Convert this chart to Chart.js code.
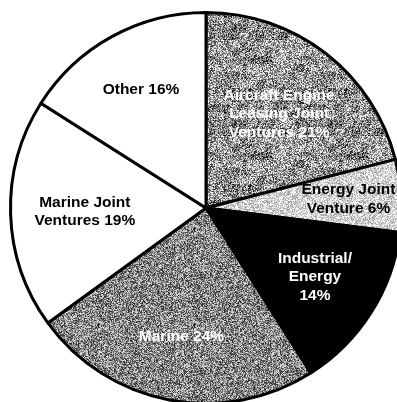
<!DOCTYPE html>
<html>
<head>
<meta charset="utf-8">
<script src="https://cdn.jsdelivr.net/npm/chart.js@4.4.1/dist/chart.umd.min.js"></script>
<style>
  html, body { margin: 0; padding: 0; background: #fff; overflow: hidden; }
  #wrap { position: absolute; left: 0; top: 0; width: 412px; height: 416px; }
</style>
</head>
<body>
<div id="wrap"><canvas id="myChart" width="412" height="416"></canvas></div>
<script>
var categories = [
  "Aircraft Engine Leasing Joint Ventures",
  "Energy Joint Venture",
  "Industrial/Energy",
  "Marine",
  "Marine Joint Ventures",
  "Other"
];
var shares = [21, 6, 14, 24, 19, 16];

// wrapped text for each slice, {p} becomes the percentage
var labelLines = [
  ["Aircraft Engine", "Leasing Joint", "Ventures {p}"],
  ["Energy Joint", "Venture {p}"],
  ["Industrial/", "Energy", "{p}"],
  ["Marine {p}"],
  ["Marine Joint", "Ventures {p}"],
  ["Other {p}"]
];
var labelColors = ["#fff", "#000", "#fff", "#fff", "#000", "#000"];
var labelRadius = [0.61, 0.73, 0.66, 0.67, 0.62, 0.69];

// small seeded generator so the halftone fills look the same every time
function rng(seed) {
  return function () {
    seed |= 0; seed = seed + 0x6D2B79F5 | 0;
    var t = Math.imul(seed ^ seed >>> 15, 1 | seed);
    t = t + Math.imul(t ^ t >>> 7, 61 | t) ^ t;
    return ((t ^ t >>> 14) >>> 0) / 4294967296;
  };
}

function grainPattern(seed, mean, contrast, blob) {
  var size = 96;
  var c = document.createElement("canvas");
  c.width = c.height = size;
  var g = c.getContext("2d");
  var img = g.createImageData(size, size);
  var r = rng(seed);
  var cells = size / 8;
  var coarse = [];
  for (var k = 0; k < cells * cells; k++) coarse.push(r() - 0.5);
  for (var y = 0; y < size; y++) {
    for (var x = 0; x < size; x++) {
      var v = mean + (r() - 0.5) * contrast * 255 + coarse[(y >> 3) * cells + (x >> 3)] * blob;
      v = Math.max(0, Math.min(255, v));
      var i = (y * size + x) * 4;
      img.data[i] = img.data[i + 1] = img.data[i + 2] = v;
      img.data[i + 3] = 255;
    }
  }
  g.putImageData(img, 0, 0);
  return g.createPattern(c, "repeat");
}

var fills = [
  grainPattern(7, 145, 0.85, 70),
  grainPattern(11, 212, 0.5, 20),
  "#000",
  grainPattern(23, 135, 0.75, 0),
  "#fff",
  "#fff"
];

var sliceLabels = {
  id: "sliceLabels",
  afterDatasetsDraw: function (chart) {
    var ctx = chart.ctx;
    var arcs = chart.getDatasetMeta(0).data;
    ctx.save();
    ctx.font = "bold 15.5px 'Liberation Sans', Arial, sans-serif";
    ctx.textAlign = "center";
    ctx.textBaseline = "middle";
    var lh = 18.5;
    arcs.forEach(function (arc, i) {
      var p = arc.getProps(["x", "y", "startAngle", "endAngle", "outerRadius"], true);
      var mid = (p.startAngle + p.endAngle) / 2;
      var rr = p.outerRadius * labelRadius[i];
      var cx = p.x + Math.cos(mid) * rr;
      var cy = p.y + Math.sin(mid) * rr;
      var lines = labelLines[i].map(function (s) { return s.replace("{p}", shares[i] + "%"); });
      ctx.fillStyle = labelColors[i];
      lines.forEach(function (s, j) {
        ctx.fillText(s, cx, cy + (j - (lines.length - 1) / 2) * lh);
      });
    });
    ctx.restore();
  }
};

var config = {
  type: "pie",
  data: {
    labels: categories,
    datasets: [
      {
        data: shares,
        backgroundColor: fills,
        borderColor: "#000",
        borderWidth: 3
      }
    ]
  },
  options: {
    responsive: false,
    animation: false,
    layout: { padding: { left: 9, right: 9, top: 11, bottom: 11 } },
    plugins: {
      legend: { display: false },
      tooltip: { enabled: false }
    }
  },
  plugins: [sliceLabels]
};

var myChart = new Chart(document.getElementById("myChart"), config);
</script>
</body>
</html>
